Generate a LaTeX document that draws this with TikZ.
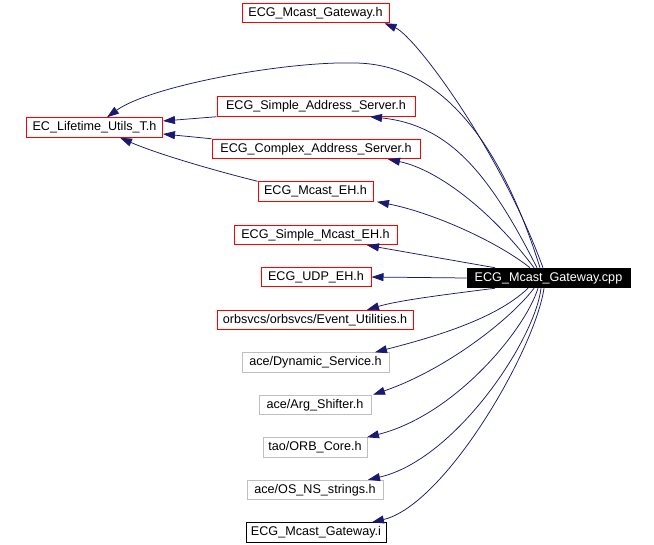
\documentclass[tikz,border=0pt]{standalone}
\usepackage{fontspec}
\setmainfont{Liberation Sans}
\usetikzlibrary{arrows.meta}
\definecolor{edgeblue}{RGB}{25,25,112}
\definecolor{graybox}{RGB}{191,191,191}
\definecolor{boxred}{RGB}{255,0,0}
\begin{document}
\begin{tikzpicture}[x=1pt,y=-1pt,
  box/.style={line width=1pt,inner sep=0pt,minimum height=19.5pt,font=\fontsize{12.6}{14}\selectfont},
  rbox/.style={box,draw=boxred},
  gbox/.style={box,draw=graybox},
  kbox/.style={box,draw=black},
  cbox/.style={box,draw=black,fill=black,text=white},
  dep/.style={draw=edgeblue,line width=0.75pt,-{Triangle[length=12pt,width=8pt,fill=edgeblue]}}]
\useasboundingbox (0,0) rectangle (654,545);
\fill[white] (0,0) rectangle (654,545);
\node[rbox,minimum width=147pt] (gh) at (315.5,13) {ECG\_Mcast\_Gateway.h};
\node[rbox,minimum width=136pt] (lt) at (94.5,127.5) {EC\_Lifetime\_Utils\_T.h};
\node[rbox,minimum width=198pt] (sas) at (316,106.5) {ECG\_Simple\_Address\_Server.h};
\node[rbox,minimum width=208pt] (cas) at (316,149) {ECG\_Complex\_Address\_Server.h};
\node[rbox,minimum width=115pt] (meh) at (315.5,191.5) {ECG\_Mcast\_EH.h};
\node[rbox,minimum width=163pt] (smeh) at (315.5,235) {ECG\_Simple\_Mcast\_EH.h};
\node[rbox,minimum width=110pt] (udp) at (316,277) {ECG\_UDP\_EH.h};
\node[rbox,minimum width=196pt] (eu) at (315,320) {orbsvcs/orbsvcs/Event\_Utilities.h};
\node[gbox,minimum width=147pt] (ds) at (315.5,362.5) {ace/Dynamic\_Service.h};
\node[gbox,minimum width=112pt] (as) at (315,405) {ace/Arg\_Shifter.h};
\node[gbox,minimum width=104pt] (orb) at (315,447.5) {tao/ORB\_Core.h};
\node[gbox,minimum width=136pt] (os) at (315,490) {ace/OS\_NS\_strings.h};
\node[kbox,minimum width=140pt] (gi) at (316,532.5) {ECG\_Mcast\_Gateway.i};
\node[cbox,minimum width=163pt] (cpp) at (548.5,278) {ECG\_Mcast\_Gateway.cpp};
% edges from cpp
\draw[dep] ([xshift=-5.5pt]cpp.north) .. controls (500,150) and (415,36) .. ([xshift=-5pt]gh.south east);
\draw[dep] ([xshift=-8.5pt]cpp.north) .. controls (500,140) and (440,64) .. (355,63) .. controls (285,61) and (150,86) .. ([xshift=12.5pt]lt.north);
\draw[dep] ([xshift=-11.5pt]cpp.north) .. controls (490,175) and (450,125) .. ([xshift=54pt]sas.south);
\draw[dep] ([xshift=-14.5pt]cpp.north) .. controls (495,215) and (440,170) .. ([xshift=72pt]cas.south);
\draw[dep] ([xshift=-18.5pt]cpp.north) .. controls (495,240) and (430,212) .. ([xshift=61.5pt]meh.south);
\draw[dep] ([xshift=-53.5pt]cpp.north) -- ([xshift=51.5pt]smeh.south);
\draw[dep] (cpp.west) -- (udp.east);
\draw[dep] ([xshift=-53.5pt]cpp.south) .. controls (450,294) and (400,300) .. ([xshift=52pt]eu.north);
\draw[dep] ([xshift=-20.5pt]cpp.south) .. controls (495,320) and (430,338) .. ([xshift=59.5pt]ds.north);
\draw[dep] ([xshift=-14.5pt]cpp.south) .. controls (510,320) and (445,370) .. ([xshift=58pt]as.north);
\draw[dep] ([xshift=-10.5pt]cpp.south) .. controls (525,330) and (455,415) .. ([xshift=52pt]orb.north);
\draw[dep] ([xshift=-7.5pt]cpp.south) .. controls (535,340) and (455,460) .. ([xshift=53pt]os.north);
\draw[dep] ([xshift=-4.5pt]cpp.south) .. controls (535,350) and (445,505) .. ([xshift=56pt]gi.north);
% edges to lifetime utils
\draw[dep] (sas.south west) -- ([yshift=6.5pt]lt.east);
\draw[dep] (cas.north west) -- ([yshift=-6.5pt]lt.east);
\draw[dep] (meh.north west) .. controls (220,172) and (160,155) .. ([xshift=25.5pt]lt.south);
\end{tikzpicture}
\end{document}
